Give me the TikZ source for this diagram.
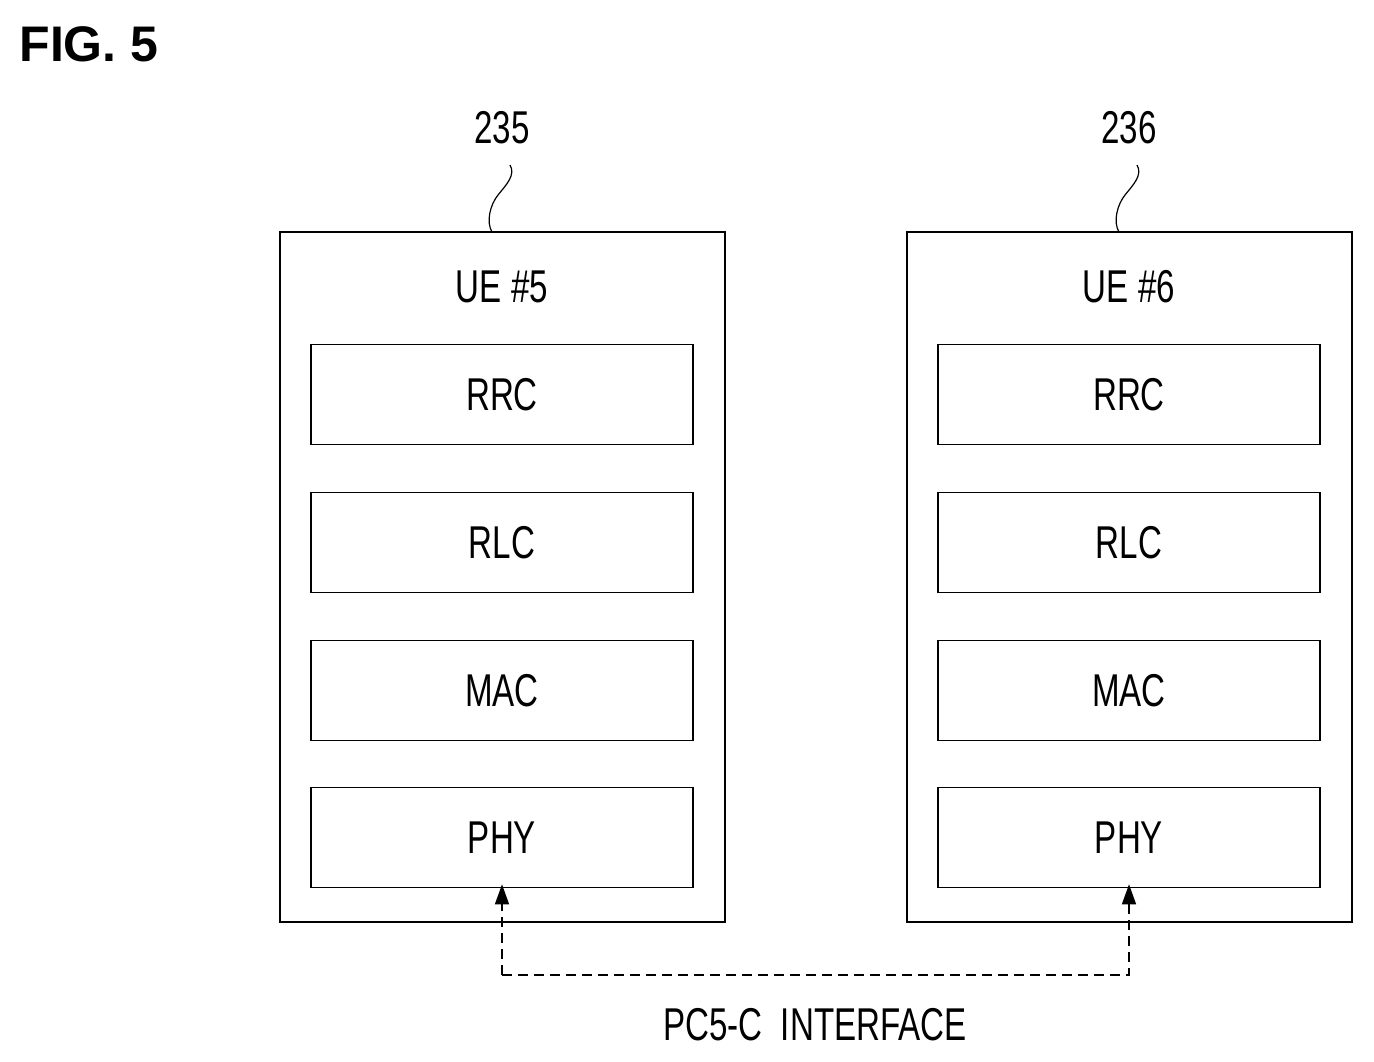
\documentclass[tikz,border=0pt]{standalone}
\usepackage{fontspec}
\setmainfont{Liberation Sans}
\usetikzlibrary{arrows.meta}
\begin{document}
\begin{tikzpicture}[x=1pt,y=-1pt,
 box/.style={draw,line width=1.6pt,minimum width=382pt,minimum height=100pt},
 outer/.style={draw,line width=1.6pt},
 lbl/.style={font=\fontsize{46}{50}\selectfont,xscale=0.72}]
\useasboundingbox (0,0) rectangle (1374,1061);
\node[anchor=west,font=\bfseries\fontsize{50}{54}\selectfont] (fig) at (16,44) {FIG. 5};
\foreach \n/\cx/\ue/\ref in {a/502/5/235,b/1129/6/236}{
 \draw[outer] (\cx-222,232) rectangle (\cx+223,922);
 \node[lbl] (ue\n) at (\cx,287) {UE \#\ue};
 \node[lbl] (ref\n) at (\cx,128) {\ref};
 \node[box] (rrc\n) at (\cx,394.5) {};\node[lbl] at (\cx,394.5) {RRC};
 \node[box] (rlc\n) at (\cx,542.5) {};\node[lbl] at (\cx,542.5) {RLC};
 \node[box] (mac\n) at (\cx,690.5) {};\node[lbl] at (\cx,690.5) {MAC};
 \node[box] (phy\n) at (\cx,837.5) {};\node[lbl] at (\cx,837.5) {PHY};
 \draw[line width=1.2pt] (\cx+8,165) .. controls (\cx+14,175) and (\cx+4,185) .. (\cx-4,195) .. controls (\cx-12,205) and (\cx-16,222) .. (\cx-10,232);
 \coordinate (d\n) at (\cx,975);
}
\draw[line width=1.4pt,dashed,dash pattern=on 10pt off 6pt,-{Triangle[length=20pt,width=14pt]}] (da) -- (phya.south|-da) -- ([yshift=4pt]phya.south);
\draw[line width=1.4pt,dashed,dash pattern=on 10pt off 6pt,-{Triangle[length=20pt,width=14pt]}] (da) -- (db) -- ([yshift=4pt]phyb.south);
\node[lbl] (pc5) at (815,1025) {PC5-C\ \ INTERFACE};
\end{tikzpicture}
\end{document}
